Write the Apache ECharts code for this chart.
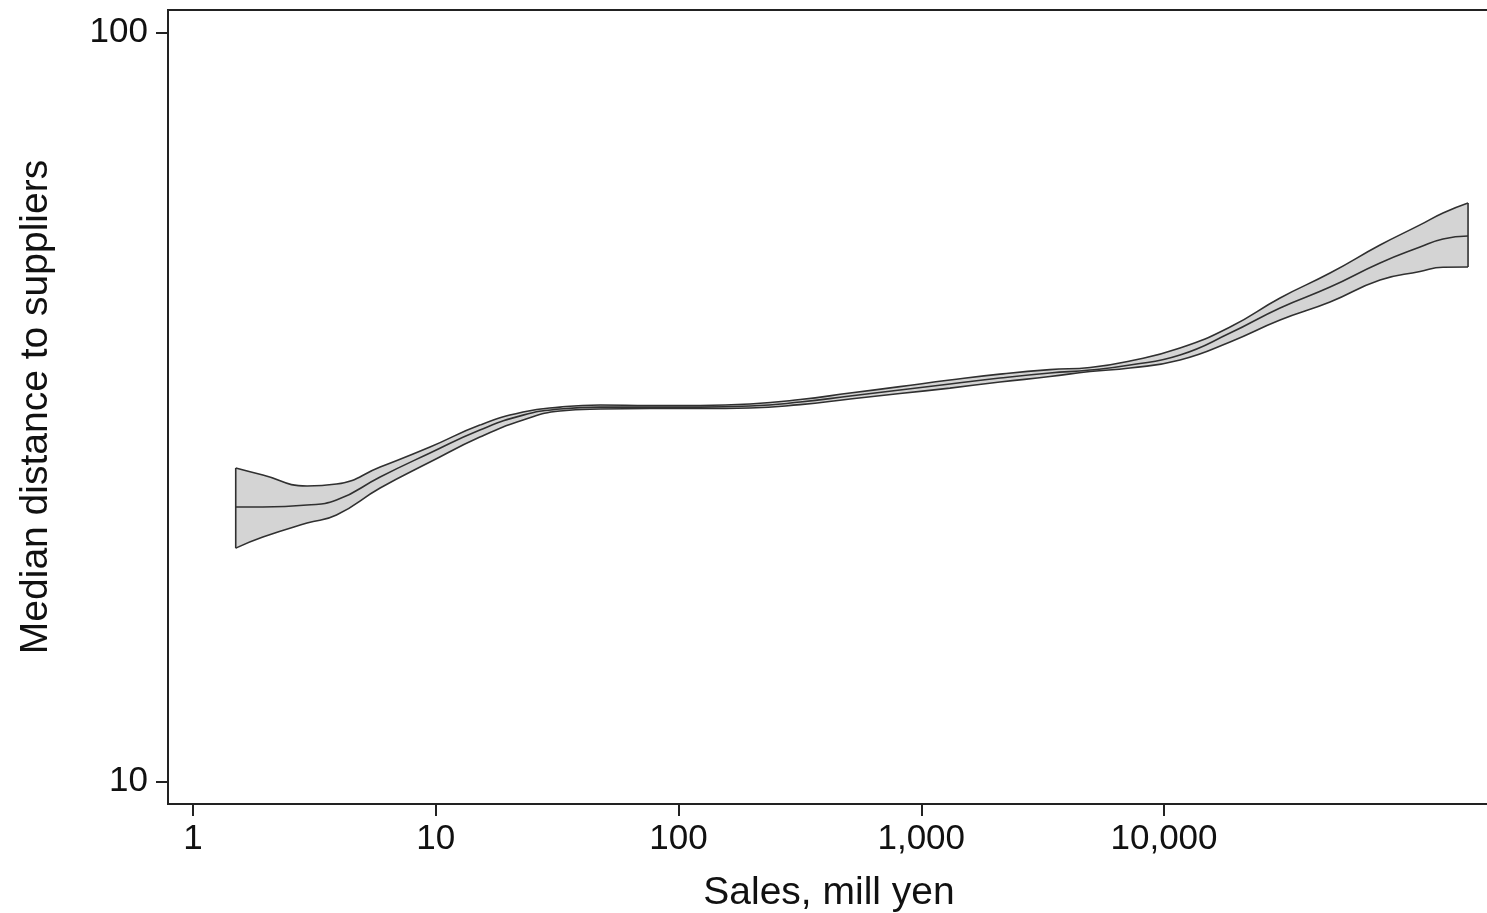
<!DOCTYPE html>
<html>
<head>
<meta charset="utf-8">
<script src="https://cdn.jsdelivr.net/npm/echarts@6/dist/echarts.min.js"></script>
<style>
html,body{margin:0;padding:0;background:#fff;}
#chart{width:1487px;height:913px;}
</style>
</head>
<body>
<div id="chart"></div>
<script>
// Sales, mill yen (x positions of the smoothed estimate)
const sales = [1.5, 1.94, 2.95, 3.9, 5.9, 9.47, 15.2, 22.9, 32.5, 47.5, 76.3, 123, 197, 317, 509, 817, 1313, 2110, 3390, 4960, 7240, 11640, 18710, 30060, 48290, 77600, 113400, 141000, 178800];
// Median distance to suppliers: estimate and confidence band
const medianDist = [23.26, 23.26, 23.40, 23.76, 25.51, 27.46, 29.47, 30.85, 31.43, 31.62, 31.62, 31.62, 31.72, 32.11, 32.71, 33.32, 33.94, 34.57, 35.11, 35.43, 35.98, 37.11, 39.69, 42.87, 45.72, 49.23, 51.70, 52.99, 53.48];
const upperDist = [26.22, 25.66, 24.81, 24.96, 26.30, 27.97, 29.92, 31.14, 31.62, 31.82, 31.78, 31.78, 31.92, 32.36, 33.01, 33.67, 34.36, 34.99, 35.48, 35.71, 36.43, 37.91, 40.44, 44.21, 47.73, 52.02, 55.34, 57.41, 59.20];
const lowerDist = [20.50, 21.21, 22.14, 22.70, 24.66, 26.71, 28.84, 30.38, 31.24, 31.43, 31.48, 31.48, 31.53, 31.86, 32.41, 32.96, 33.52, 34.15, 34.73, 35.27, 35.65, 36.54, 38.62, 41.31, 43.66, 46.71, 47.95, 48.58, 48.62];
// Axis ticks
const xTickValues = [1, 10, 100, 1000, 10000];
const xTickLabels = ['1', '10', '100', '1,000', '10,000'];
const yTickValues = [10, 100];
const yTickLabels = ['10', '100'];
const xRange = [0.789, 220200];
const yRange = [9.34, 107.1];

const L = Math.log10;
const lowerPts = sales.map((s, i) => [L(s), L(lowerDist[i])]);
const upperPts = sales.map((s, i) => [L(s), L(upperDist[i])]);
const midPts = sales.map((s, i) => [L(s), L(medianDist[i])]);
// for the stacked band fill: value dimension first so it is the stacked one
const lowerStack = sales.map((s, i) => [L(lowerDist[i]), L(s)]);
const diffStack = sales.map((s, i) => [L(upperDist[i]) - L(lowerDist[i]), L(s)]);
const n = sales.length;
const leftEdge = [[L(sales[0]), L(lowerDist[0])], [L(sales[0]), L(upperDist[0])]];
const rightEdge = [[L(sales[n-1]), L(lowerDist[n-1])], [L(sales[n-1]), L(upperDist[n-1])]];

const FONT = 'Liberation Sans, Arial, Helvetica, sans-serif';
const lineColor = '#303030';
const SM = 0.5;

function lineSeries(data, smooth) {
  return {
    type: 'line', data: data, symbol: 'none', smooth: smooth,
    lineStyle: {color: lineColor, width: 1.6}, silent: true, z: 4
  };
}

const chart = echarts.init(document.getElementById('chart'), null, {renderer: 'canvas'});
chart.setOption({
  animation: false,
  backgroundColor: '#ffffff',
  grid: {left: 168, top: 10, width: 1322, height: 794, show: true, borderColor: '#222', borderWidth: 2, containLabel: false, outerBoundsMode: 'none'},
  xAxis: {
    type: 'value', min: L(xRange[0]), max: L(xRange[1]), z: 10,
    name: 'Sales, mill yen', nameLocation: 'middle', nameGap: 70,
    nameTextStyle: {fontFamily: FONT, fontSize: 39, color: '#111'},
    axisLine: {show: true, onZero: false, lineStyle: {color: '#222', width: 2}},
    axisTick: {show: true, length: 12, lineStyle: {color: '#222', width: 2}, customValues: xTickValues.map(L)},
    axisLabel: {
      fontFamily: FONT, fontSize: 35, color: '#111', margin: 18,
      customValues: xTickValues.map(L),
      formatter: v => { const i = xTickValues.findIndex(t => Math.abs(L(t) - v) < 1e-6); return i >= 0 ? xTickLabels[i] : ''; }
    },
    splitLine: {show: false}
  },
  yAxis: {
    type: 'value', min: L(yRange[0]), max: L(yRange[1]), z: 10,
    name: 'Median distance to suppliers', nameLocation: 'middle', nameGap: 112,
    nameTextStyle: {fontFamily: FONT, fontSize: 39, color: '#111'},
    axisLine: {show: true, onZero: false, lineStyle: {color: '#222', width: 2}},
    axisTick: {show: true, length: 12, lineStyle: {color: '#222', width: 2}, customValues: yTickValues.map(L)},
    axisLabel: {
      fontFamily: FONT, fontSize: 35, color: '#111', margin: 20,
      customValues: yTickValues.map(L),
      formatter: v => { const i = yTickValues.findIndex(t => Math.abs(L(t) - v) < 1e-6); return i >= 0 ? yTickLabels[i] : ''; }
    },
    splitLine: {show: false}
  },
  series: [
    {type: 'line', data: lowerStack, encode: {x: 1, y: 0}, stack: 'band', symbol: 'none', smooth: SM, lineStyle: {opacity: 0}, silent: true, z: 1},
    {type: 'line', data: diffStack, encode: {x: 1, y: 0}, stack: 'band', symbol: 'none', smooth: SM, lineStyle: {opacity: 0}, areaStyle: {color: '#d4d4d4', opacity: 1}, silent: true, z: 1},
    lineSeries(upperPts, SM),
    lineSeries(lowerPts, SM),
    lineSeries(midPts, SM),
    lineSeries(leftEdge, false),
    lineSeries(rightEdge, false)
  ]
});
</script>
</body>
</html>
